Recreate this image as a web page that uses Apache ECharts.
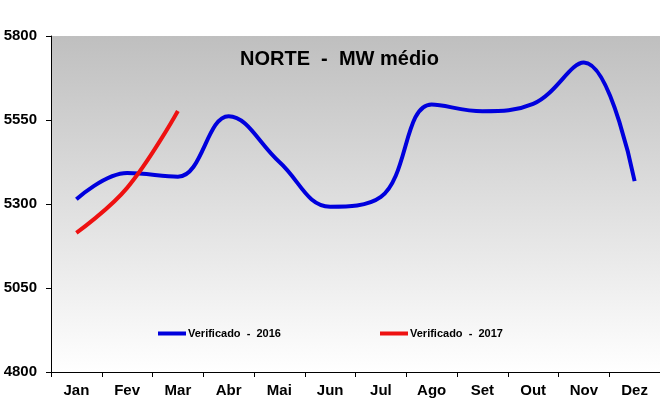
<!DOCTYPE html>
<html>
<head>
<meta charset="utf-8">
<script src="https://cdn.jsdelivr.net/npm/echarts@6/dist/echarts.min.js"></script>
<style>html,body{margin:0;padding:0;background:#fff}#c{width:660px;height:413px}</style>
</head>
<body>
<div id="c"></div>
<script>
var months = ['Jan','Fev','Mar','Abr','Mai','Jun','Jul','Ago','Set','Out','Nov','Dez'];
var verificado2016 = [5314, 5392, 5381, 5561, 5425, 5292, 5321, 5596, 5576, 5598, 5721, 5368];
var verificado2017 = [5214, 5348, 5577];
var yTicks = {min: 4800, max: 5800, interval: 250};
var titleText = 'NORTE  -  MW médio';
var name2016 = 'Verificado  -  2016';
var name2017 = 'Verificado  -  2017';

var chart = echarts.init(document.getElementById('c'));
var font = 'Liberation Sans, Arial, sans-serif';
chart.setOption({
  animation: false,
  backgroundColor: '#fff',
  title: {
    text: titleText, left: 235, top: 44,
    textStyle: {fontFamily: font, fontSize: 20, fontWeight: 'bold', color: '#000'}
  },
  legend: [{
    data: [name2016], left: 158, top: 328, icon: 'rect', itemWidth: 28, itemHeight: 4,
    itemGap: 0, padding: 0,
    textStyle: {fontFamily: font, fontSize: 11, fontWeight: 'bold', color: '#000', padding: [0,0,0,-3]}
  },{
    data: [name2017], left: 380, top: 328, icon: 'rect', itemWidth: 28, itemHeight: 4,
    itemGap: 0, padding: 0,
    textStyle: {fontFamily: font, fontSize: 11, fontWeight: 'bold', color: '#000', padding: [0,0,0,-3]}
  }],
  grid: {
    left: 51, right: 0, top: 36, bottom: 41, show: true, borderWidth: 0,
    backgroundColor: new echarts.graphic.LinearGradient(0, 0, 0, 1, [
      {offset: 0, color: '#bfbfbf'}, {offset: 1, color: '#ffffff'}
    ])
  },
  xAxis: {
    type: 'category', data: months, boundaryGap: true,
    axisLine: {lineStyle: {color: '#000', width: 1}},
    axisTick: {show: true, length: 5, inside: false, lineStyle: {color: '#000'}},
    axisLabel: {fontFamily: font, fontSize: 15, fontWeight: 'bold', color: '#000', margin: 11},
    splitLine: {show: false}
  },
  yAxis: {
    type: 'value', min: yTicks.min, max: yTicks.max, interval: yTicks.interval,
    axisLine: {show: true, lineStyle: {color: '#000', width: 1}},
    axisTick: {show: true, length: 5, lineStyle: {color: '#000'}},
    axisLabel: {fontFamily: font, fontSize: 15, fontWeight: 'bold', color: '#000', margin: 14,
      formatter: function (v) { return String(v); }},
    splitLine: {show: false}
  },
  series: [{
    name: name2016, type: 'line', data: verificado2016, smooth: 0.4, symbol: 'none',
    lineStyle: {color: '#0000dd', width: 4}, itemStyle: {color: '#0000dd'}
  },{
    name: name2017, type: 'line', data: verificado2017, smooth: 0.4, symbol: 'none',
    lineStyle: {color: '#ee1111', width: 4}, itemStyle: {color: '#ee1111'}
  }]
});
</script>
</body>
</html>
